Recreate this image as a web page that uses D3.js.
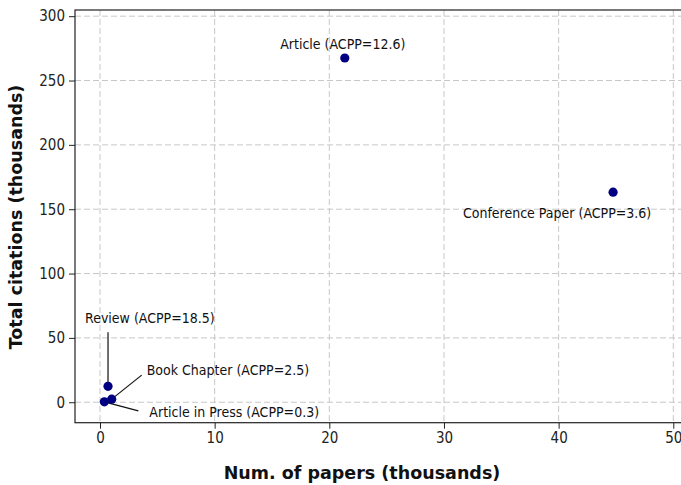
<!DOCTYPE html>
<html><head><meta charset="utf-8">
<script src="https://cdn.jsdelivr.net/npm/d3@7"></script>
<style>body{margin:0;background:#fff}svg{display:block}</style>
</head><body>
<svg id="chart" width="681" height="485"></svg>
<script>
const docTypes = ["Article", "Conference Paper", "Review", "Book Chapter", "Article in Press"];
const papers = [21.35, 44.75, 0.7, 1.02, 0.38];      // thousands
const citations = [267.5, 163.2, 12.4, 2.4, 0.3];   // thousands
const acpp = [12.6, 3.6, 18.5, 2.5, 0.3];
const xTicks = [0, 10, 20, 30, 40, 50];
const yTicks = [0, 50, 100, 150, 200, 250, 300];

// label layout (pixel offsets from point): [labelDx, labelDy, anchor, lineDx, lineDy]
const labelLayout = [
  [-2, -9, "middle", null, null],
  [-56, 26, "middle", null, null],
  [-23, -63, "start", 0, -54],
  [35, -24, "start", 30, -24],
  [45, 15, "start", 34, 9]
];

const svg = d3.select("#chart");
const L = 75, R = 700, T = 10, B = 422.7;
const x = d3.scaleLinear().domain([-2.18, 52.33]).range([L, R]);
const y = d3.scaleLinear().domain([-15.9, 304.8]).range([B, T]);
const font = "DejaVu Sans, Verdana, sans-serif";
const cfont = "'DejaVu Sans Condensed', 'DejaVu Sans', sans-serif";

// grid
const g = svg.append("g");
g.selectAll(".vx").data(xTicks).join("line")
  .attr("x1", d => x(d)).attr("x2", d => x(d)).attr("y1", T).attr("y2", B)
  .attr("stroke", "#c8c8c8").attr("stroke-width", 1).attr("stroke-dasharray", "6,3");
g.selectAll(".hy").data(yTicks).join("line")
  .attr("x1", L).attr("x2", R).attr("y1", d => y(d)).attr("y2", d => y(d))
  .attr("stroke", "#c8c8c8").attr("stroke-width", 1).attr("stroke-dasharray", "6,3");

// axes
const xa = svg.append("g").attr("transform", `translate(0,${B})`)
  .call(d3.axisBottom(x).tickValues(xTicks).tickSize(6).tickPadding(4).tickSizeOuter(0));
const ya = svg.append("g").attr("transform", `translate(${L},0)`)
  .call(d3.axisLeft(y).tickValues(yTicks).tickSize(6).tickPadding(4).tickSizeOuter(0));
[xa, ya].forEach(a => {
  a.select(".domain").remove();
  a.selectAll("text").attr("font-family", cfont).attr("font-stretch", "condensed")
    .attr("font-size", 15).attr("fill", "#222");
  a.selectAll("line").attr("stroke", "#222");
});
// spines
svg.append("rect").attr("x", L).attr("y", T).attr("width", R - L).attr("height", B - T)
  .attr("fill", "none").attr("stroke", "#222").attr("stroke-width", 1.2);

// annotation lines
docTypes.forEach((d, i) => {
  const l = labelLayout[i];
  if (l[3] !== null) {
    svg.append("line")
      .attr("x1", x(papers[i]) + l[3]).attr("y1", y(citations[i]) + l[4])
      .attr("x2", x(papers[i])).attr("y2", y(citations[i]))
      .attr("stroke", "#111").attr("stroke-width", 1.2);
  }
});

// points
svg.selectAll("circle.pt").data(docTypes).join("circle")
  .attr("cx", (d, i) => x(papers[i])).attr("cy", (d, i) => y(citations[i]))
  .attr("r", 4.6).attr("fill", "#000080");

// labels
svg.selectAll("text.lbl").data(docTypes).join("text")
  .attr("x", (d, i) => x(papers[i]) + labelLayout[i][0])
  .attr("y", (d, i) => y(citations[i]) + labelLayout[i][1])
  .attr("text-anchor", (d, i) => labelLayout[i][2])
  .attr("font-family", cfont).attr("font-stretch", "condensed")
  .attr("font-size", 14).attr("fill", "#111")
  .text((d, i) => `${d} (ACPP=${acpp[i]})`);

// axis titles
svg.append("text").attr("x", 362).attr("y", 479).attr("text-anchor", "middle")
  .attr("font-family", font).attr("font-weight", "bold").attr("font-size", 17.5).attr("fill", "#111")
  .text("Num. of papers (thousands)");
svg.append("text").attr("transform", "translate(22,217) rotate(-90)").attr("text-anchor", "middle")
  .attr("font-family", font).attr("font-weight", "bold").attr("font-size", 17.5).attr("fill", "#111")
  .text("Total citations (thousands)");
</script>
</body></html>
